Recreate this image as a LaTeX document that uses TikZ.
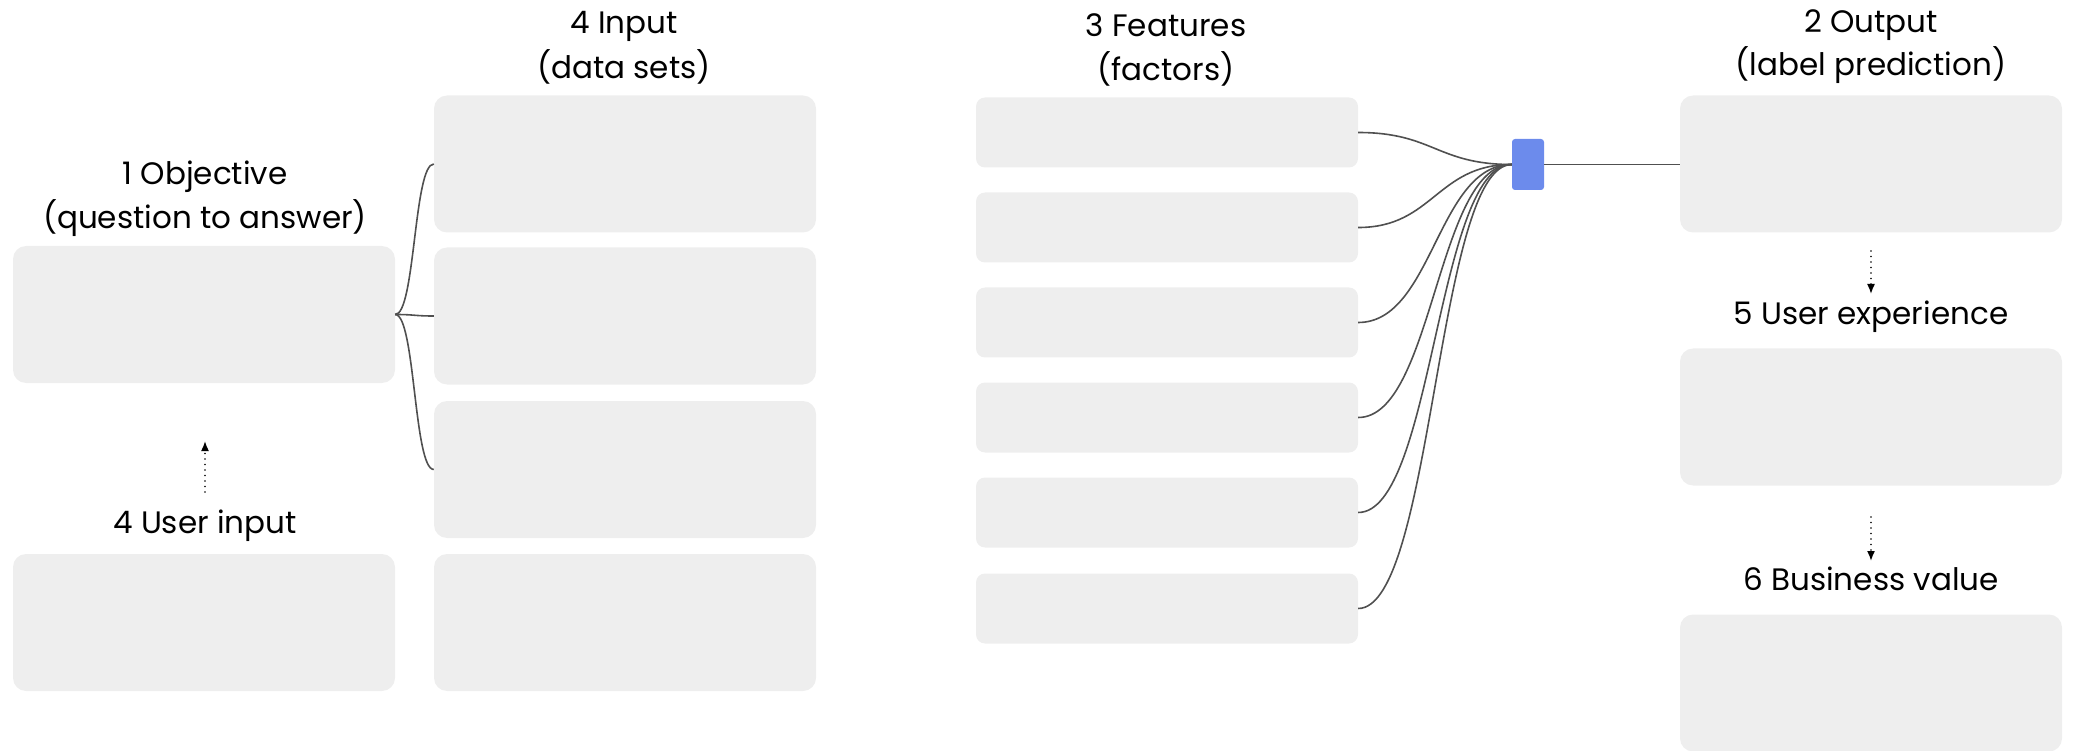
\documentclass[tikz,border=0pt]{standalone}
\usepackage{fontspec}
\setmainfont{Poppins}
\usetikzlibrary{arrows.meta}
\definecolor{boxgray}{HTML}{EEEEEE}
\definecolor{linegray}{HTML}{505050}
\definecolor{blu}{HTML}{6C8BEC}
\begin{document}
\begin{tikzpicture}[x=1pt,y=-1pt,
  bigbox/.style={fill=boxgray, rounded corners=13pt, draw=none},
  featbox/.style={fill=boxgray, rounded corners=9pt, draw=none},
  lbl/.style={font=\fontsize{31}{36}\selectfont, text=black, inner sep=0pt, text height=0.75em, text depth=0.2em},
  conn/.style={draw=linegray, line width=1.6pt},
  dotarrow/.style={draw=black, line width=1.6pt, line cap=round, dash pattern=on 0pt off 5.5pt, -{Latex[length=10pt,width=8pt]}}
]
\useasboundingbox (0,0) rectangle (2073,751);
% left column
\node[bigbox, minimum width=382pt, minimum height=137pt, inner sep=0pt] (obj) at (204,314.5) {};
\node[bigbox, minimum width=382pt, minimum height=137pt, inner sep=0pt] (uin) at (204,622.5) {};
\node[lbl] (tobja) at (205,182) {1 Objective};
\node[lbl] (tobjb) at (205,226) {(question to answer)};
\node[lbl] (tuin) at (205,531) {4 User input};
\coordinate (uinS) at (205,492);
\coordinate (uinE) at (205,441);
\draw[dotarrow] (uinS) -- (uinE);
% input column
\node[bigbox, minimum width=382pt, minimum height=137pt, inner sep=0pt] (in1) at (625,164) {};
\node[bigbox, minimum width=382pt, minimum height=137pt, inner sep=0pt] (in2) at (625,316) {};
\node[bigbox, minimum width=382pt, minimum height=137pt, inner sep=0pt] (in3) at (625,469.5) {};
\node[bigbox, minimum width=382pt, minimum height=137pt, inner sep=0pt] (in4) at (625,622.5) {};
\node[lbl] (tina) at (624,31) {4 Input};
\node[lbl] (tinb) at (624,76) {(data sets)};
\foreach \n in {in1,in2,in3}{
  \draw[conn] (obj.east) .. controls +(20,0) and +(-20,0) .. (\n.west);
}
% features
\foreach \i/\y in {1/132.5,2/227.5,3/322.5,4/417.5,5/512.5,6/608.5}{
  \node[featbox, minimum width=382pt, minimum height=70pt, inner sep=0pt] (f\i) at (1167,\y) {};
}
\node[lbl] (tfa) at (1166,34) {3 Features};
\node[lbl] (tfb) at (1166,78) {(factors)};
\node[fill=blu, rounded corners=3pt, minimum width=32pt, minimum height=51pt, inner sep=0pt] (agg) at (1528,164.5) {};
\foreach \i in {1,...,6}{
  \draw[conn] (f\i.east) .. controls +(75,0) and +(-75,0) .. (agg.west);
}
% output column
\node[bigbox, minimum width=382pt, minimum height=137pt, inner sep=0pt] (out) at (1871,164) {};
\node[bigbox, minimum width=382pt, minimum height=137pt, inner sep=0pt] (ux) at (1871,417) {};
\node[bigbox, minimum width=382pt, minimum height=137pt, inner sep=0pt] (bv) at (1871,683) {};
\node[lbl] (touta) at (1871,30) {2 Output};
\node[lbl] (toutb) at (1871,73) {(label prediction)};
\node[lbl] (tux) at (1871,322) {5 User experience};
\node[lbl] (tbv) at (1871,588) {6 Business value};
\draw[conn] (agg.east) -- (agg.east -| out.west);
\coordinate (a1s) at (1871,251);
\coordinate (a1e) at (1871,294);
\draw[dotarrow] (a1s) -- (a1e);
\coordinate (a2s) at (1871,517);
\coordinate (a2e) at (1871,561);
\draw[dotarrow] (a2s) -- (a2e);
\end{tikzpicture}
\end{document}
